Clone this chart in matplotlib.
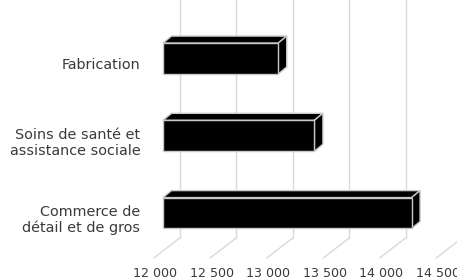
import numpy as np
import matplotlib
matplotlib.use('Agg')
import matplotlib.pyplot as plt
from matplotlib.patches import Polygon

categories = ['Fabrication', 'Soins de santé et\nassistance sociale', 'Commerce de\ndétail et de gros']
values = [13020, 13340, 14200]
ticks = [12000, 12500, 13000, 13500, 14000, 14500]
tick_labels = ['12 000', '12 500', '13 000', '13 500', '14 000', '14 500']

fig = plt.figure(figsize=(4.57, 2.79), dpi=100)
ax = fig.add_axes([0, 0, 1, 1])
ax.set_xlim(10557, 14602)
ax.set_ylim(2.854, -0.757)
ax.axis('off')

base = 12000
h = 0.40          # bar front height
dx, dy = 75, -0.09  # bar depth offset
wx = 150           # back wall offset
fx, fy = -230, 2.58  # floor diagonal
wall_bottom = 2.32
grid_c = '#d9d9d9'
text_c = '#3a3a3a'

# gridlines: back wall verticals + floor diagonals
for t in ticks:
    ax.plot([t + wx, t + wx], [-0.8, wall_bottom], color=grid_c, lw=1, zorder=1)
    ax.plot([t + wx, t + wx + fx], [wall_bottom, fy], color=grid_c, lw=1, zorder=1)

for lab, t in zip(tick_labels, ticks):
    ax.text(t - 70, 2.78, lab, ha='center', va='center', fontsize=9.1, color=text_c)

ec = '#c8c8c8'
for i, (cat, v) in enumerate(zip(categories, values)):
    top, bot = i - h / 2, i + h / 2
    ax.add_patch(Polygon([[base, top], [base + dx, top + dy], [v + dx, top + dy], [v, top]],
                         closed=True, fc='black', ec=ec, lw=1, zorder=3))
    ax.add_patch(Polygon([[v, top], [v + dx, top + dy], [v + dx, bot + dy], [v, bot]],
                         closed=True, fc='black', ec=ec, lw=1, zorder=3))
    ax.barh(i, v - base, left=base, height=h, color='black', edgecolor=ec, lw=1, zorder=4)
    ax.text(11800, i + 0.09, cat, ha='right', va='center', multialignment='right',
            fontsize=10.4, color=text_c, linespacing=1.2)

fig.savefig('out.png', dpi=100)
